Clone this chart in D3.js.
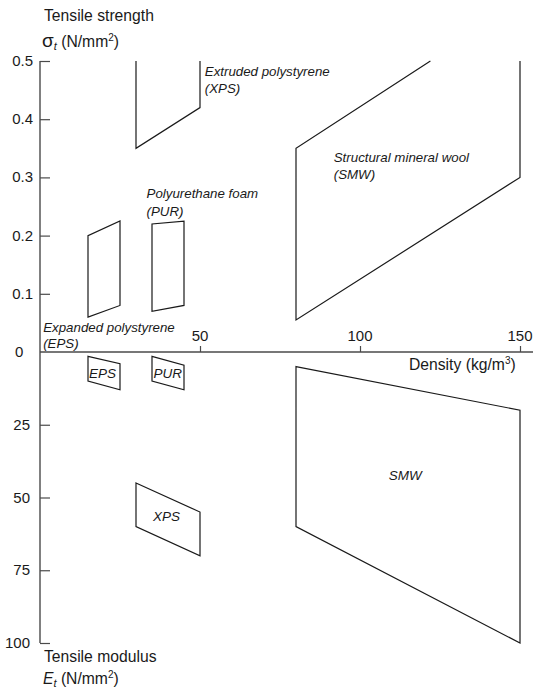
<!DOCTYPE html>
<html><head><meta charset="utf-8">
<script src="https://cdn.jsdelivr.net/npm/d3@7"></script>
<style>
body{margin:0;background:#fff;}
svg{display:block;font-family:"Liberation Sans",Arial,Helvetica,sans-serif;}
</style></head>
<body><svg id="c" width="535" height="691"></svg>
<script>
// ---- data ----
const densityTicks = [50, 100, 150];
const strengthTicks = [0.1, 0.2, 0.3, 0.4, 0.5];
const modulusTicks = [25, 50, 75, 100];

// upper panel: tensile strength (N/mm2) vs density (kg/m3)
const strengthEPS = [[15,0.06],[15,0.20],[25,0.225],[25,0.08]];
const strengthPUR = [[35,0.07],[35,0.22],[45,0.225],[45,0.08]];
const strengthXPS = [[30,0.5],[30,0.35],[50,0.42],[50,0.5]];          // open at top
const strengthSMW = [[122,0.5],[80,0.35],[80,0.055],[150,0.30],[150,0.5]]; // open at top

// lower panel: tensile modulus (N/mm2) vs density
const modulusEPS = [[15,1.5],[25,4],[25,13],[15,10]];
const modulusPUR = [[35,1.5],[45,4.5],[45,13],[35,10]];
const modulusXPS = [[30,45],[50,55],[50,70],[30,60]];
const modulusSMW = [[80,5],[150,20],[150,100],[80,60]];

// ---- scales ----
const svg = d3.select("#c");
const x = d3.scaleLinear().domain([0,150]).range([40,520]);
const yS = d3.scaleLinear().domain([0,0.5]).range([352,61]);
const yM = d3.scaleLinear().domain([0,100]).range([352,643]);
const ink = "#1a1a1a";
const axisInk = "#4a4a4a";

// axes
const gY1 = svg.append("g").attr("transform","translate(40,0)")
  .call(d3.axisRight(yS).tickValues(strengthTicks).tickSize(10).tickFormat(""));
const gY2 = svg.append("g").attr("transform","translate(40,0)")
  .call(d3.axisRight(yM).tickValues(modulusTicks).tickSize(10).tickFormat(""));
[gY1,gY2].forEach(g=>{
  g.select(".domain").remove();
  g.selectAll("line").attr("stroke",axisInk).attr("stroke-width",1.2);
});
svg.append("line").attr("x1",40).attr("x2",40).attr("y1",yS(0.5)).attr("y2",yM(100))
  .attr("stroke",axisInk).attr("stroke-width",1.4);

const gX = svg.append("g").attr("transform","translate(0,352)")
  .call(d3.axisTop(x).tickValues(densityTicks).tickSize(6).tickFormat(""));
gX.select(".domain").remove();
gX.selectAll("line").attr("stroke",axisInk).attr("stroke-width",1.2);
svg.append("line").attr("x1",40).attr("x2",533).attr("y1",352).attr("y2",352)
  .attr("stroke",axisInk).attr("stroke-width",1.4);

// tick labels
const fs = 15;
svg.selectAll(".ts").data(strengthTicks).enter().append("text")
  .attr("x",33).attr("y",d=>yS(d)+5).attr("text-anchor","end")
  .attr("font-size",fs).attr("fill",ink).text(d=>d.toFixed(1));
svg.selectAll(".tm").data(modulusTicks).enter().append("text")
  .attr("x",30).attr("y",d=>yM(d)+5).attr("text-anchor","end")
  .attr("font-size",fs).attr("fill",ink).text(d=>d);
svg.append("text").attr("x",15).attr("y",357).attr("font-size",fs).attr("fill",ink).text("0");
svg.selectAll(".tx").data(densityTicks).enter().append("text")
  .attr("x",d=>x(d)).attr("y",341).attr("text-anchor","middle")
  .attr("font-size",fs).attr("fill",ink).text(d=>d);

// shapes
const line = d3.line();
function draw(pts, yScale, closed){
  svg.append("path")
    .attr("d", line(pts.map(p=>[x(p[0]), yScale(p[1])])) + (closed?"Z":""))
    .attr("fill","none").attr("stroke",ink).attr("stroke-width",1.2)
    .attr("stroke-linejoin","miter");
}
draw(strengthEPS, yS, true);
draw(strengthPUR, yS, true);
draw(strengthXPS, yS, false);
draw(strengthSMW, yS, false);
draw(modulusEPS, yM, true);
draw(modulusPUR, yM, true);
draw(modulusXPS, yM, true);
draw(modulusSMW, yM, true);

// italic labels
function it(txt, px, py, size){
  svg.append("text").attr("x",px).attr("y",py).attr("font-size",size||13.3)
    .attr("font-style","italic").attr("fill",ink).text(txt);
}
it("Extruded polystyrene", x(51.5), 76);
it("(XPS)", x(51.5), 93);
it("Structural mineral wool", x(91.8), 162);
it("(SMW)", x(91.8), 179);
it("Polyurethane foam", x(33.3), 198);
it("(PUR)", x(33.3), 216);
it("Expanded polystyrene", x(1), 332);
it("(EPS)", x(1), 348);
it("EPS", x(15.3), 378, 13.5);
it("PUR", x(35.5), 378, 13.5);
it("XPS", x(35.3), 521, 13.5);
it("SMW", x(109), 480, 13.5);

// axis titles
const tf = 15.7;
svg.append("text").attr("x",44).attr("y",21).attr("font-size",tf).attr("fill",ink).text("Tensile strength");
const s = svg.append("text").attr("x",42).attr("y",47).attr("font-size",tf).attr("fill",ink);
s.append("tspan").attr("font-size",19).text("σ");
s.append("tspan").attr("font-size",11).attr("font-style","italic").attr("dy",3).text("t");
s.append("tspan").attr("dy",-3).text(" (N/mm");
s.append("tspan").attr("font-size",10).attr("dy",-6).text("2");
s.append("tspan").attr("dy",6).text(")");

const d = svg.append("text").attr("x",409).attr("y",370).attr("font-size",tf).attr("fill",ink);
d.append("tspan").text("Density (kg/m");
d.append("tspan").attr("font-size",10).attr("dy",-6).text("3");
d.append("tspan").attr("dy",6).text(")");

svg.append("text").attr("x",44).attr("y",662).attr("font-size",tf).attr("fill",ink).text("Tensile modulus");
const e = svg.append("text").attr("x",43).attr("y",684).attr("font-size",tf).attr("fill",ink);
e.append("tspan").attr("font-style","italic").text("E");
e.append("tspan").attr("font-size",11).attr("font-style","italic").attr("dy",3).text("t");
e.append("tspan").attr("dy",-3).text(" (N/mm");
e.append("tspan").attr("font-size",10).attr("dy",-6).text("2");
e.append("tspan").attr("dy",6).text(")");
</script></body></html>
